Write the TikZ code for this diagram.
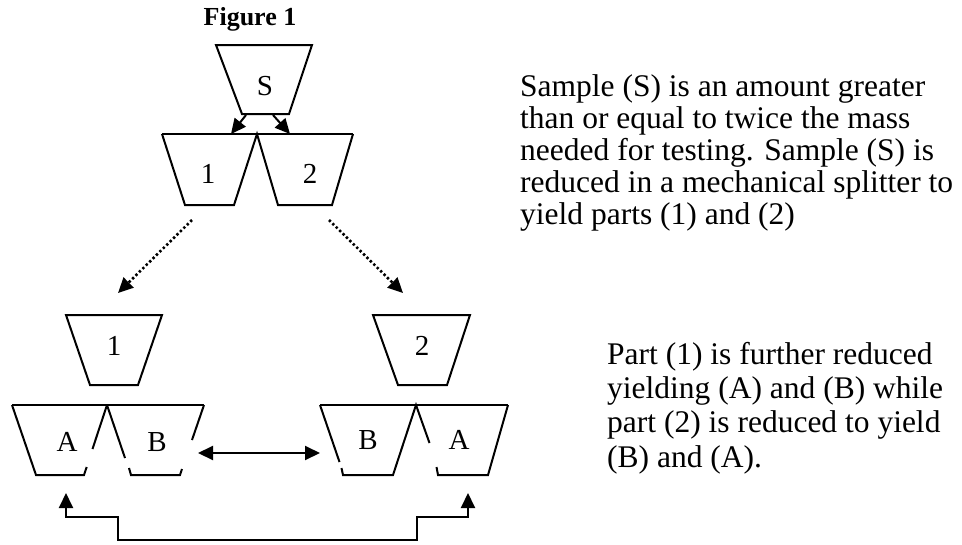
\documentclass[tikz,border=0pt]{standalone}
\usepackage{fontspec}
\setmainfont{Liberation Serif}
\usetikzlibrary{arrows.meta}
\tikzset{
  trap/.style={line width=2pt, line join=miter},
  lbl/.style={inner sep=0pt, font=\fontsize{29}{32}\selectfont},
  tip/.style={Triangle[length=15pt,width=14pt]},
  arr/.style={line width=2pt, -{Triangle[length=15pt,width=14pt]}},
  dotarr/.style={line width=2.6pt, dash pattern=on 2.4pt off 2.4pt, -{Triangle[length=15pt,width=14pt]}},
  dblarr/.style={line width=2pt, {Triangle[length=15pt,width=14pt]}-{Triangle[length=15pt,width=14pt]}},
  para/.style={inner sep=0pt, align=left, anchor=base west, font=\fontsize{31.5}{32}\selectfont},
}
\begin{document}
\begin{tikzpicture}[x=1pt,y=-1pt]
\useasboundingbox (0,0) rectangle (962,544);
\fill[white] (0,0) rectangle (962,544);

% title
\node[inner sep=0pt, anchor=base, font=\fontsize{26}{28}\selectfont\bfseries] (title) at (250,25) {Figure 1};

% S
\draw[trap] (216,45) -- (312,45) -- (289,114) -- (242,114) -- cycle;
\node[lbl] (s) at (265,86) {S};

% pair 1 2
\draw[trap] (162,134) -- (353,134);
\draw[trap] (162,134) -- (185,205) -- (234,205) -- (257,134) -- (278,205) -- (332,205) -- (353,134);
\node[lbl] (p1) at (208,174) {1};
\node[lbl] (p2) at (310,174) {2};

% arrows S -> 1,2
\coordinate (sa) at (246,115); \coordinate (sat) at (231,134);
\coordinate (sb) at (273,115); \coordinate (sbt) at (290,134);
\draw[arr] (sa) -- (sat);
\draw[arr] (sb) -- (sbt);

% dotted arrows
\coordinate (d1) at (192,220); \coordinate (d1t) at (118,293);
\coordinate (d2) at (329,220); \coordinate (d2t) at (403,293);
\draw[dotarr] (d1) -- (d1t);
\draw[dotarr] (d2) -- (d2t);

% single 1 and 2
\draw[trap] (66,315) -- (162,315) -- (138,385) -- (90,385) -- cycle;
\node[lbl] (q1) at (114,346) {1};
\draw[trap] (373,315) -- (470,315) -- (447,385) -- (398,385) -- cycle;
\node[lbl] (q2) at (422,346) {2};

% left pair A B
\draw[trap] (12,405) -- (204,405);
\draw[trap] (12,405) -- (36,475) -- (84,475) -- (86.7,467);
\draw[trap] (107,405) -- (92.5,449);
\draw[trap] (107,405) -- (125,458);
\draw[trap] (129,468) -- (131,475) -- (180,475) -- (182,469);
\draw[trap] (204,405) -- (192,440);
\node[lbl] (a1) at (67,442) {A};
\node[lbl] (b1) at (157,442) {B};

% right pair B A
\draw[trap] (320,405) -- (508,405);
\draw[trap] (320,405) -- (339.5,462);
\draw[trap] (341.5,468) -- (343,475) -- (393,475) -- (416,405) -- (429.5,443);
\draw[trap] (436.5,467) -- (438,475) -- (488,475) -- (508,405);
\node[lbl] (b2) at (368,440) {B};
\node[lbl] (a2) at (459,440) {A};

% double arrow
\coordinate (m1) at (198,453); \coordinate (m2) at (320,453);
\draw[dblarr] (m1) -- (m2);

% bottom connector
\coordinate (ca) at (66,493); \coordinate (cb) at (468,493);
\draw[dblarr, line join=miter] (ca) -- (66,517) -- (118,517) -- (118,540) -- (417,540) -- (417,517) -- (468,517) -- (cb);

% texts
\node[para] (t1) at (520,224) {Sample (S) is an amount greater\\than or equal to twice the mass\\needed for testing. Sample (S) is\\reduced in a mechanical splitter to\\yield parts (1) and (2)};
\node[para, font=\fontsize{31.5}{34.3}\selectfont] (t2) at (607,467) {Part (1) is further reduced\\yielding (A) and (B) while\\part (2) is reduced to yield\\(B) and (A).};
\end{tikzpicture}
\end{document}
